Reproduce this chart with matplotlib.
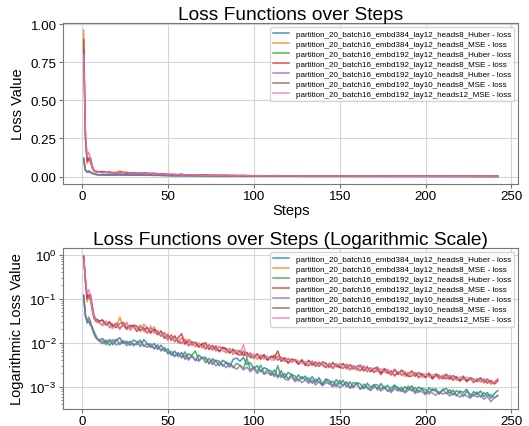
import numpy as np
import matplotlib
matplotlib.use("Agg")
import matplotlib.pyplot as plt
from matplotlib.ticker import MultipleLocator, FormatStrFormatter

plt.rcParams["font.family"] = ["Liberation Sans", "DejaVu Sans"]

# Steps where values were read (every step up to 10, then every 2 steps)
steps = list(range(1, 11)) + list(range(12, 243, 2))

# Loss values, in units of 1e-5
huber_384_12_8 = [
    12000, 4500, 2800, 3000, 2500, 2300, 1700, 1400, 1250, 1150,
    1250, 980, 1180, 900, 1120, 1300, 950, 1080, 870, 1150,
    1050, 820, 1180, 950, 780, 960, 700, 880, 640, 720,
    520, 650, 480, 600, 420, 560, 510, 390, 520, 450,
    470, 330, 430, 380, 300, 400, 350, 280, 420, 450,
    380, 460, 320, 350, 260, 300, 220, 270, 250, 190,
    240, 170, 230, 160, 210, 190, 140, 185, 150, 175,
    130, 170, 125, 160, 115, 150, 140, 105, 145, 115,
    140, 100, 130, 95, 125, 115, 90, 120, 98, 110,
    85, 118, 92, 108, 80, 104, 96, 78, 100, 86,
    105, 76, 98, 88, 70, 95, 82, 90, 68, 85,
    92, 70, 84, 62, 80, 74, 88, 58, 78, 66,
    80, 60, 74, 55, 70, 82,
]
mse_384_12_8 = [
    96000, 30000, 8500, 10500, 11000, 6000, 3800, 3000, 3400, 2900,
    2600, 3100, 2200, 2700, 2300, 3800, 2400, 2800, 2000, 2500,
    2400, 1800, 2600, 2200, 1600, 2300, 1500, 1900, 1300, 1600,
    1100, 1450, 1000, 1300, 900, 1200, 1050, 800, 1000, 780,
    950, 700, 880, 640, 820, 760, 580, 750, 540, 680,
    640, 500, 600, 450, 560, 420, 530, 480, 400, 500,
    420, 500, 380, 460, 350, 430, 400, 320, 420, 330,
    390, 300, 370, 290, 350, 340, 270, 360, 280, 320,
    330, 250, 310, 280, 240, 300, 230, 270, 220, 260,
    260, 200, 250, 220, 180, 240, 190, 230, 170, 210,
    220, 170, 210, 180, 160, 200, 155, 190, 150, 180,
    185, 145, 175, 150, 135, 170, 140, 160, 125, 150,
    155, 120, 145, 115, 130, 150,
]
huber_192_12_8 = [
    11000, 4000, 3200, 3800, 3000, 2000, 1600, 1300, 1200, 1100,
    950, 1150, 870, 1050, 1200, 900, 1100, 960, 1080, 850,
    1000, 1150, 820, 960, 880, 740, 900, 650, 780, 560,
    640, 500, 580, 470, 620, 430, 520, 650, 400, 470,
    350, 440, 320, 400, 380, 290, 360, 330, 270, 340,
    310, 260, 450, 240, 280, 220, 310, 200, 240, 230,
    170, 300, 160, 200, 150, 190, 175, 135, 170, 145,
    160, 120, 150, 130, 110, 145, 120, 135, 100, 140,
    105, 130, 95, 125, 118, 88, 115, 100, 85, 112,
    110, 88, 102, 78, 95, 110, 82, 98, 76, 104,
    80, 96, 74, 92, 86, 68, 90, 78, 72, 88,
    70, 86, 65, 82, 74, 60, 78, 68, 62, 76,
    58, 74, 62, 66, 56, 64,
]
mse_192_12_8 = [
    90000, 25000, 10000, 12000, 9500, 5500, 3600, 3200, 2900, 3100,
    3200, 2500, 2900, 2300, 2800, 2100, 2600, 2000, 2500, 2300,
    1800, 2400, 1900, 2200, 1700, 2000, 1800, 1400, 1700, 1150,
    1500, 1050, 1300, 1600, 950, 1100, 880, 1000, 800, 950,
    720, 900, 680, 850, 620, 780, 700, 580, 720, 560,
    520, 640, 480, 580, 440, 550, 420, 520, 400, 480,
    460, 650, 380, 450, 340, 420, 390, 330, 400, 310,
    300, 380, 290, 360, 310, 270, 340, 260, 330, 280,
    260, 320, 240, 300, 260, 230, 290, 220, 270, 210,
    250, 190, 240, 200, 230, 175, 220, 185, 200, 170,
    175, 210, 160, 200, 165, 190, 150, 185, 160, 170,
    150, 180, 140, 170, 135, 160, 130, 155, 125, 145,
    130, 150, 120, 140, 115, 135,
]
huber_192_10_8 = [
    12000, 4200, 3000, 3300, 2700, 2200, 1800, 1500, 1200, 1100,
    1100, 900, 1050, 1180, 880, 1000, 1120, 850, 1030, 940,
    900, 1050, 880, 780, 950, 720, 830, 680, 740, 600,
    560, 480, 600, 450, 520, 400, 490, 420, 380, 450,
    420, 340, 390, 300, 360, 320, 270, 340, 290, 250,
    300, 240, 280, 220, 260, 200, 240, 190, 210, 180,
    200, 160, 190, 150, 140, 170, 130, 150, 125, 140,
    120, 140, 110, 130, 105, 125, 115, 100, 118, 95,
    110, 125, 92, 105, 115, 88, 100, 92, 82, 98,
    96, 80, 92, 85, 74, 90, 80, 86, 72, 84,
    88, 70, 82, 76, 66, 80, 72, 64, 76, 68,
    74, 62, 70, 66, 58, 68, 62, 55, 66, 58,
    64, 52, 60, 46, 56, 62,
]
mse_192_10_8 = [
    84000, 28000, 11000, 12000, 12500, 7000, 4200, 3500, 3300, 3100,
    3300, 2600, 3000, 2400, 2200, 2700, 2900, 2200, 2300, 2500,
    2300, 1900, 2200, 1650, 2100, 1900, 1550, 1800, 1250, 1450,
    1200, 1400, 1050, 950, 1200, 850, 1050, 980, 800, 950,
    1000, 700, 850, 720, 650, 780, 740, 600, 680, 560,
    660, 520, 600, 480, 460, 560, 440, 540, 420, 470,
    520, 400, 470, 380, 430, 360, 420, 340, 390, 310,
    400, 320, 360, 290, 370, 340, 280, 350, 300, 270,
    340, 270, 320, 250, 290, 310, 230, 290, 220, 260,
    280, 210, 260, 230, 195, 250, 190, 240, 210, 180,
    230, 175, 210, 185, 165, 205, 160, 195, 180, 150,
    195, 150, 180, 160, 140, 175, 135, 160, 150, 130,
    160, 130, 150, 125, 120, 140,
]
mse_192_12_12 = [
    80000, 30000, 13000, 16000, 11000, 6000, 4000, 3300, 3000, 2800,
    2400, 2900, 2300, 2100, 2700, 2000, 2500, 2900, 1900, 2300,
    2100, 2500, 1800, 1700, 2400, 1600, 1900, 1400, 1700, 1200,
    1400, 1100, 1250, 980, 1150, 1100, 850, 1050, 920, 760,
    780, 900, 720, 680, 800, 640, 620, 720, 560, 660,
    560, 900, 470, 590, 450, 520, 500, 420, 500, 410,
    400, 480, 420, 380, 450, 360, 410, 390, 330, 380,
    320, 380, 340, 300, 360, 290, 340, 280, 310, 330,
    260, 330, 250, 300, 240, 280, 300, 220, 270, 240,
    220, 260, 210, 250, 200, 230, 220, 180, 220, 200,
    180, 210, 200, 160, 200, 165, 190, 175, 150, 185,
    160, 180, 170, 140, 170, 145, 165, 150, 130, 155,
    130, 145, 140, 120, 125, 150,
]

labels = [
    "partition_20_batch16_embd384_lay12_heads8_Huber - loss",
    "partition_20_batch16_embd384_lay12_heads8_MSE - loss",
    "partition_20_batch16_embd192_lay12_heads8_Huber - loss",
    "partition_20_batch16_embd192_lay12_heads8_MSE - loss",
    "partition_20_batch16_embd192_lay10_heads8_Huber - loss",
    "partition_20_batch16_embd192_lay10_heads8_MSE - loss",
    "partition_20_batch16_embd192_lay12_heads12_MSE - loss",
]
series = [huber_384_12_8, mse_384_12_8, huber_192_12_8, mse_192_12_8,
          huber_192_10_8, mse_192_10_8, mse_192_12_12]

fig, (ax1, ax2) = plt.subplots(2, 1, figsize=(5.29, 4.27), dpi=100)
fig.subplots_adjust(left=0.119, right=0.980, top=0.944, bottom=0.040, hspace=0.40)

for vals, lab in zip(series, labels):
    y = np.array(vals) * 1e-5
    ax1.plot(steps, y, lw=1.1, alpha=0.8, label=lab)
    ax2.plot(steps, y, lw=1.1, alpha=0.8, label=lab)

ax2.set_yscale("log")
ax1.yaxis.set_major_locator(MultipleLocator(0.25))
ax1.yaxis.set_major_formatter(FormatStrFormatter("%.2f"))

ax1.set_title("Loss Functions over Steps", fontsize=13.8, pad=3)
ax1.set_xlabel("Steps", fontsize=10.5, labelpad=1)
ax1.set_ylabel("Loss Value", fontsize=10.5)
ax2.set_title("Loss Functions over Steps (Logarithmic Scale)", fontsize=13.8, pad=3)
ax2.set_ylabel("Logarithmic Loss Value", fontsize=10.5)

for ax in (ax1, ax2):
    ax.grid(True, color="#d5d5d5", lw=0.8)
    ax.set_axisbelow(True)
    for sp in ax.spines.values():
        sp.set_color("#777777")
        sp.set_linewidth(0.8)
    ax.tick_params(labelsize=9.6, colors="#777777", labelcolor="black", length=3, pad=1.5)
    ax.tick_params(which="minor", colors="#777777", length=1.8)
    ax.legend(loc="upper right", fontsize=5.8, labelspacing=0.3, handlelength=2.0,
              borderpad=0.4, framealpha=0.8)

fig.savefig("out.png", dpi=100)
